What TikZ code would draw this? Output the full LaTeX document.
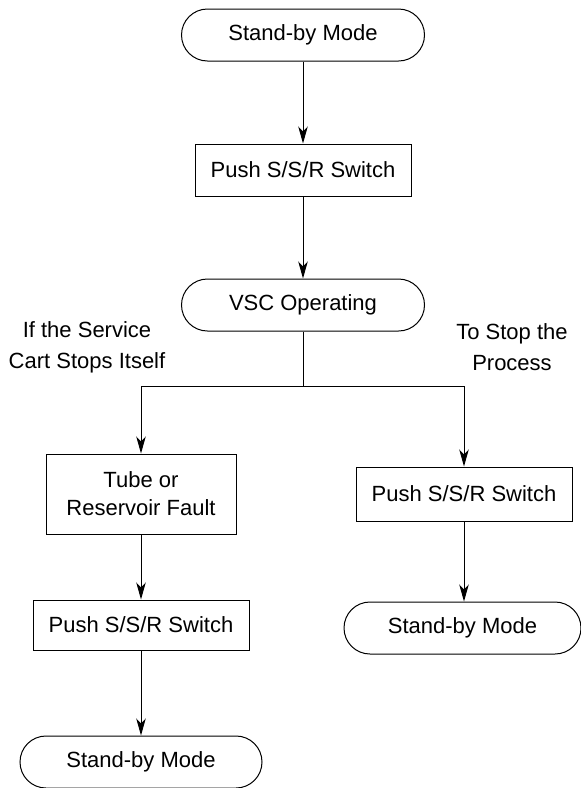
\documentclass[tikz,border=0pt]{standalone}
\usepackage{fontspec}
\setmainfont{Liberation Sans}
\usetikzlibrary{arrows.meta}
\begin{document}
\begin{tikzpicture}[x=1pt,y=-1pt,
  lbl/.style={font=\fontsize{22}{28}\selectfont, align=center, inner sep=0pt},
  caption/.style={lbl, font=\fontsize{22}{31}\selectfont},
  term/.style={lbl, draw, line width=1pt, rectangle, rounded corners=26pt,
               minimum width=243pt, minimum height=52pt},
  proc/.style={lbl, draw, line width=1pt, rectangle,
               minimum width=216pt, minimum height=52pt},
  flow/.style={-{Stealth[length=17pt,width=9.5pt,inset=5pt]}, line width=1pt},
  link/.style={line width=1pt}]
\useasboundingbox (0,0) rectangle (581,788);

% main column
\node[term] (sbTop) at (303,35)  {Stand-by Mode};
\node[proc] (push1) at (303,170) {Push S/S/R Switch};
\node[term] (vsc)   at (303,305) {VSC Operating};
\coordinate (split) at (303,386);

% branch captions
\node[caption] (capL) at (87,347.5)  {If the Service\\Cart Stops Itself};
\node[caption] (capR) at (512,347.5) {To Stop the\\Process};

% left branch
\node[proc, minimum width=190pt, minimum height=80pt] (fault) at (141,494) {Tube or\\Reservoir Fault};
\node[proc, minimum height=50pt] (pushL) at (141,625) {Push S/S/R Switch};
\node[term, minimum width=242pt] (sbL) at (141,762) {Stand-by Mode};

% right branch
\node[proc, minimum height=54pt] (pushR) at (464,494) {Push S/S/R Switch};
\node[term, minimum width=237pt] (sbR) at (462.5,628) {Stand-by Mode};

% connectors
\draw[flow] (sbTop) -- (push1);
\draw[flow] (push1) -- (vsc);
\draw[link] (vsc) -- (split);
\draw[flow] (split) -| (fault.north);
\draw[flow] (split) -| (pushR.north);
\draw[flow] (fault) -- (pushL);
\draw[flow] (pushL) -- (sbL);
\draw[flow] (pushR.south) -- (pushR.south |- sbR.north);
\end{tikzpicture}
\end{document}
